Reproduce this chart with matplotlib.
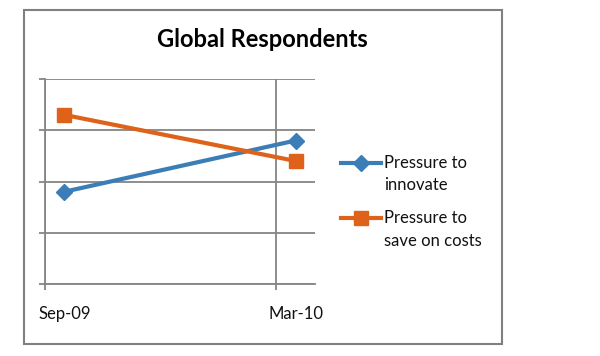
import matplotlib
matplotlib.use("Agg")
from matplotlib import pyplot as plt
from matplotlib.lines import Line2D
from matplotlib.patches import Rectangle

# months counted from Sep-09
months = [0, 6]
month_labels = ["Sep-09", "Mar-10"]
innovate = [36, 56]
save_costs = [66, 48]
series_labels = ["Pressure to\ninnovate", "Pressure to\nsave on costs"]
series_colors = ["#3b7db6", "#de6219"]
series_markers = ["D", "s"]

plt.rcParams["font.family"] = ["Lato", "DejaVu Sans"]
grid_col = "#858585"

fig = plt.figure(figsize=(6, 3.56), dpi=100)
ax = fig.add_axes([45 / 600, 1 - 284 / 356, 270 / 600, 205 / 356])

lines = []
for vals, col, mk in zip([innovate, save_costs], series_colors, series_markers):
    h, = ax.plot(months, vals, color=col, lw=3, marker=mk,
                 markersize=10 if mk == "s" else 8.5, zorder=3, clip_on=False)
    lines.append(h)

ax.set_xlim(-0.5, 6.5)
ax.set_ylim(0, 80)

# date axis: major ticks at slot start, labels at slot centre
ax.set_xticks([-0.5, 5.5])
ax.set_xticklabels([])
ax.set_xticks(months, minor=True)
ax.set_xticklabels(month_labels, minor=True, fontsize=12, color="#111111")
ax.tick_params(axis="x", which="major", length=4, width=1.3, color=grid_col)
ax.tick_params(axis="x", which="minor", length=0, pad=16)
ax.set_yticks([0, 20, 40, 60, 80])
ax.set_yticklabels([])
ax.tick_params(axis="y", length=4, width=1.3, color=grid_col)

ax.grid(True, which="major", color=grid_col, lw=1.3)
for s in ["top", "right"]:
    ax.spines[s].set_visible(False)
for s in ["left", "bottom"]:
    ax.spines[s].set_color(grid_col)
    ax.spines[s].set_linewidth(1.3)

fig.text(262 / 600, 1 - 47 / 356, "Global Respondents", ha="center",
         va="baseline", fontsize=17, fontweight="bold", color="black")

# legend drawn by hand so the handle sits on the first text line
leg_y = [163, 218]
for h, lab, y in zip(lines, series_labels, leg_y):
    fy = 1 - y / 356
    fig.add_artist(Line2D([341 / 600, 381 / 600], [fy, fy], color=h.get_color(),
                          lw=3, transform=fig.transFigure))
    fig.add_artist(Line2D([361 / 600], [fy], color=h.get_color(), marker=h.get_marker(),
                          markersize=h.get_markersize(), transform=fig.transFigure))
    # va="baseline" on multi-line text sits on the last line
    fig.text(384 / 600, 1 - (y + 5.5 + 22) / 356, lab, ha="left", va="baseline",
             fontsize=12, color="#111111", linespacing=1.5)

fig.add_artist(Rectangle((23.5 / 600, 1 - 344 / 356), 478.5 / 600, 334 / 356,
                         transform=fig.transFigure, fill=False,
                         edgecolor="#808080", lw=1.5))

fig.savefig("out.png", dpi=100)
